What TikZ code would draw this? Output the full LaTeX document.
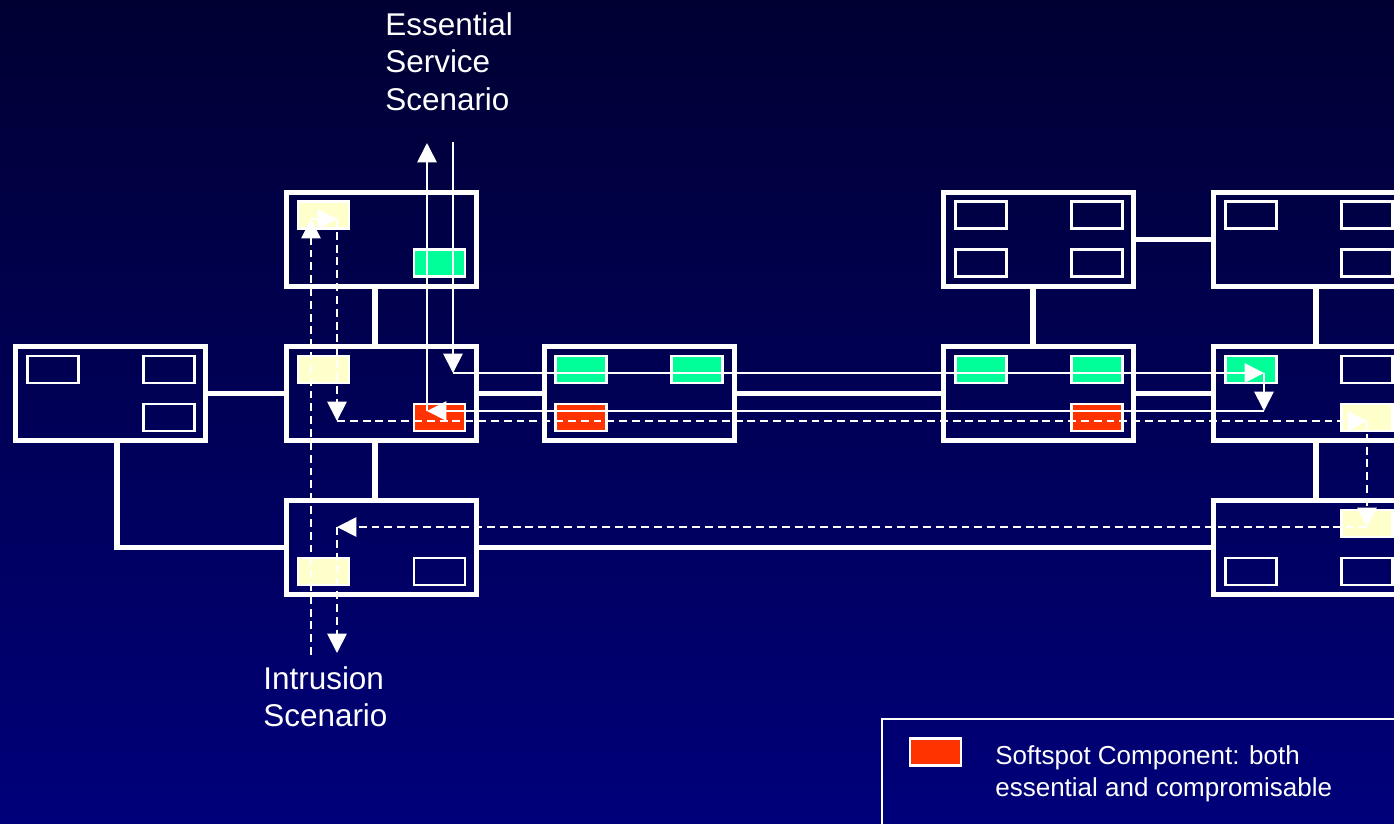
\documentclass[tikz,border=0pt]{standalone}
\usepackage{fontspec}
\setmainfont{Liberation Sans}
\usetikzlibrary{arrows.meta,calc}
\definecolor{bgtop}{HTML}{000033}
\definecolor{bgbot}{HTML}{00007A}
\definecolor{softred}{HTML}{FF3300}
\definecolor{essgreen}{HTML}{00FF99}
\definecolor{intyellow}{HTML}{FFFFCC}

\begin{document}
\begin{tikzpicture}[x=0.02cm,y=-0.02cm,
  host/.style={draw=white,line width=2.4pt,minimum width=3.8cm,minimum height=1.88cm,inner sep=0pt},
  comp/.style={draw=white,line width=1.4pt,minimum width=1.02cm,minimum height=0.54cm,inner sep=0pt},
  link/.style={white,line width=3.1pt},
  ess/.style={white,line width=1pt,-{Triangle[length=11pt,width=11pt]}},
  intr/.style={ess,dash pattern=on 4.5pt off 2.8pt},
  lbl/.style={white,inner sep=0pt,align=left,anchor=north west,font=\fontsize{17.9pt}{21.5pt}\selectfont}]
\useasboundingbox (0,0) rectangle (1394,823);
\clip (0,0) rectangle (1394,823);
\shade[top color=bgtop,bottom color=bgbot] (0,0) rectangle (1394,823);
% hosts
\node[host] (hL) at (110.5,393.5) {};
\node[host] (hA) at (381.5,239.5) {};
\node[host] (hB) at (381.5,393.5) {};
\node[host] (hD) at (381.5,547.5) {};
\node[host] (hC) at (639.5,393.5) {};
\node[host] (hG) at (1038.5,239.5) {};
\node[host] (hE) at (1038.5,393.5) {};
\node[host] (hH) at (1308.5,239.5) {};
\node[host] (hF) at (1308.5,393.5) {};
\node[host] (hI) at (1308.5,547.5) {};
% network links
\draw[link] (hL.east) -- (hB.west);
\draw[link] (hB.east) -- (hC.west);
\draw[link] (hC.east) -- (hE.west);
\draw[link] (hE.east) -- (hF.west);
\draw[link] (hG.east) -- (hH.west);
\draw[link] (hD.east) -- (hI.west);
\draw[link] ($(hA.south)+(-6.5,0)$) -- ($(hB.north)+(-6.5,0)$);
\draw[link] ($(hB.south)+(-6.5,0)$) -- ($(hD.north)+(-6.5,0)$);
\draw[link] ($(hG.south)+(-5.5,0)$) -- ($(hE.north)+(-5.5,0)$);
\draw[link] ($(hH.south)+(7.5,0)$) -- ($(hF.north)+(7.5,0)$);
\draw[link] ($(hF.south)+(7.5,0)$) -- ($(hI.north)+(7.5,0)$);
\draw[link] ($(hL.south)+(6.5,0)$) |- (hD.west);
% components
\node[comp] (cL1) at (53,369.5) {};
\node[comp] (cL2) at (169,369.5) {};
\node[comp] (cL3) at (169,417.5) {};
\node[comp,fill=intyellow] (cA1) at (323.5,215) {};
\node[comp,fill=essgreen] (cA2) at (439.5,263) {};
\node[comp,fill=intyellow] (cB1) at (323.5,369.5) {};
\node[comp,fill=softred] (cB2) at (439.5,417.5) {};
\node[comp,fill=intyellow] (cD1) at (323.5,571.5) {};
\node[comp] (cD2) at (439.5,571.5) {};
\node[comp,fill=essgreen] (cC1) at (581,369.5) {};
\node[comp,fill=essgreen] (cC2) at (697,369.5) {};
\node[comp,fill=softred] (cC3) at (581,417.5) {};
\node[comp] (cG1) at (981,215) {};
\node[comp] (cG2) at (1097,215) {};
\node[comp] (cG3) at (981,263) {};
\node[comp] (cG4) at (1097,263) {};
\node[comp,fill=essgreen] (cE1) at (981,369.5) {};
\node[comp,fill=essgreen] (cE2) at (1097,369.5) {};
\node[comp,fill=softred] (cE3) at (1097,417.5) {};
\node[comp] (cH1) at (1251,215) {};
\node[comp] (cH2) at (1367,215) {};
\node[comp] (cH3) at (1367,263) {};
\node[comp,fill=essgreen] (cF1) at (1251,369.5) {};
\node[comp] (cF2) at (1367,369.5) {};
\node[comp,fill=intyellow] (cF3) at (1367,417.5) {};
\node[comp,fill=intyellow] (cI1) at (1367,523.5) {};
\node[comp] (cI2) at (1251,571.5) {};
\node[comp] (cI3) at (1367,571.5) {};
% essential service scenario
\coordinate (e1) at (453,142);
\coordinate (e2) at (453,373);
\coordinate (e3) at (1264,373);
\coordinate (e4) at (1264,411);
\coordinate (e5) at (427,411);
\coordinate (e6) at (427,143);
\draw[ess] (e1) -- (e2);
\draw[ess] (e2) -- (e3);
\draw[ess] (e3) -- (e4);
\draw[ess] (e4) -- (e5);
\draw[ess] (e5) -- (e6);
% intrusion scenario
\coordinate (i1) at (311,655);
\coordinate (i2) at (311,219);
\coordinate (i3) at (337,219);
\coordinate (i4) at (337,421);
\coordinate (i5) at (1367,421);
\coordinate (i6) at (1367,527);
\coordinate (i7) at (337,527);
\coordinate (i8) at (337,653);
\draw[intr] (i1) -- (i2);
\draw[intr] (i2) -- (i3);
\draw[intr] (i3) -- (i4);
\draw[intr] (i4) -- (i5);
\draw[intr] (i5) -- (i6);
\draw[intr] (i6) -- (i7);
\draw[intr] (i7) -- (i8);
% labels
\node[lbl] (essLbl) at (385,12) {Essential\\Service\\Scenario};
\node[lbl] (intrLbl) at (263,666) {Intrusion\\Scenario};
% legend
\node[draw=white,line width=1.1pt,minimum width=11cm,minimum height=3cm,anchor=north west] (legend) at (881,718) {};
\node[comp,fill=softred] (key) at (935.5,752) {};
\node[lbl,font=\fontsize{14.8pt}{18.1pt}\selectfont] (keyLbl) at (995,745) {Softspot Component: both\\essential and compromisable};
\end{tikzpicture}
\end{document}
